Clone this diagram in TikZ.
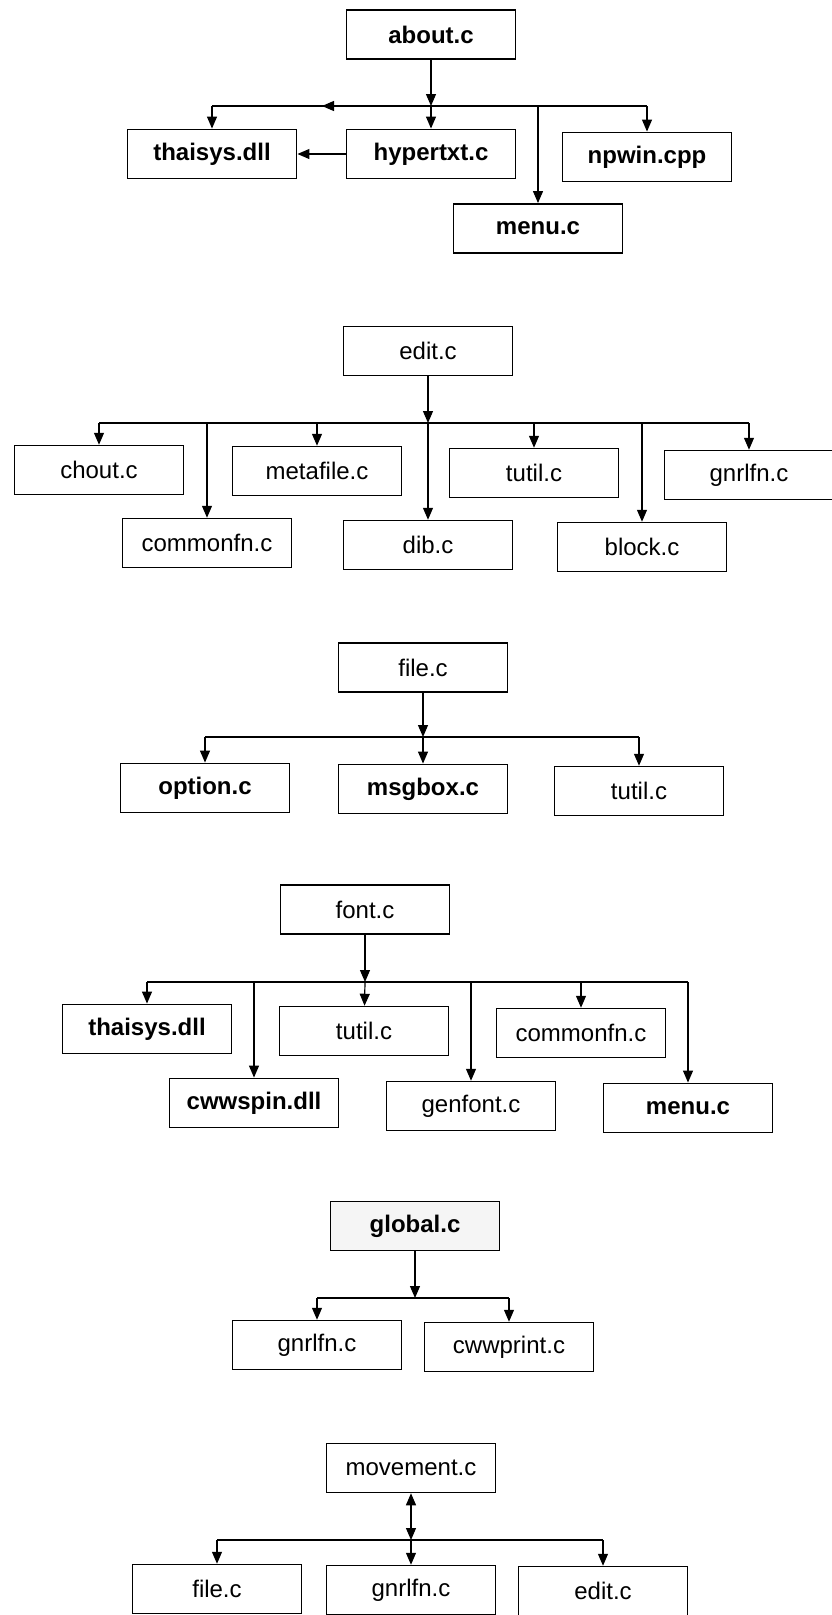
\documentclass[tikz,border=0pt]{standalone}
\usepackage{fontspec}
\setmainfont{Liberation Sans}
\usetikzlibrary{arrows.meta}
\begin{document}
\begin{tikzpicture}[x=1pt,y=-1pt]
        \useasboundingbox (0,0) rectangle (832,1615);
        \tikzstyle{every node}=[rectangle, draw=black, fill=white, line width=1.5pt, minimum width=169pt, minimum height=49pt, inner sep=0pt, font=\fontsize{24}{28}\selectfont, text=black]
        \tikzstyle{heavy}=[line width=1.9pt, font=\fontsize{24}{28}\selectfont\bfseries]
        \tikzstyle{wire}=[black, line width=1.2pt]
        \tikzstyle{edge}=[wire, -{Triangle[length=12pt,width=10pt]}]
        \tikzstyle{twoway}=[wire, {Triangle[length=12pt,width=10pt]}-{Triangle[length=12pt,width=10pt]}]

        \node[heavy] (about)     at (431,34.5)  {about.c};
        \node[heavy] (thaisys)   at (212,154)   {thaisys.dll};
        \node[heavy] (hypertxt)  at (431,154)   {hypertxt.c};
        \node[heavy] (npwin)     at (647,157)   {npwin.cpp};
        \node[heavy] (menuA)     at (538,228.5) {menu.c};

        \coordinate (aboutbus)   at (431,106);
        \coordinate (aboutmid)   at (322,106);
        \coordinate (thaisysbus) at (212,106);
        \coordinate (menuAbus)   at (538,106);
        \coordinate (npwinbus)   at (647,106);

        \draw[wire] (thaisysbus) -- (npwinbus);
        \draw[edge] (about) -- (aboutbus);
        \draw[edge] (aboutbus) -- (aboutmid);
        \draw[edge] (aboutbus) -- (hypertxt);
        \draw[edge] (thaisysbus) -- (thaisys);
        \draw[edge] (menuAbus) -- (menuA);
        \draw[edge] (npwinbus) -- (npwin);
        \draw[edge] (hypertxt) -- (thaisys);

        \node (edit)     at (428,351) {edit.c};
        \node (chout)    at (99,470)  {chout.c};
        \node (metafile) at (317,471) {metafile.c};
        \node (tutilB)   at (534,473) {tutil.c};
        \node (gnrlfnB)  at (749,475) {gnrlfn.c};
        \node (commonB)  at (207,543) {commonfn.c};
        \node (dib)      at (428,545) {dib.c};
        \node (block)    at (642,547) {block.c};

        \coordinate (editbus)     at (428,423);
        \coordinate (choutbus)    at (99,423);
        \coordinate (commonBbus)  at (207,423);
        \coordinate (metafilebus) at (317,423);
        \coordinate (tutilBbus)   at (534,423);
        \coordinate (blockbus)    at (642,423);
        \coordinate (gnrlfnBbus)  at (749,423);

        \draw[wire] (choutbus) -- (gnrlfnBbus);
        \draw[edge] (edit) -- (editbus);
        \draw[edge] (editbus) -- (dib);
        \draw[edge] (choutbus) -- (chout);
        \draw[edge] (commonBbus) -- (commonB);
        \draw[edge] (metafilebus) -- (metafile);
        \draw[edge] (tutilBbus) -- (tutilB);
        \draw[edge] (blockbus) -- (block);
        \draw[edge] (gnrlfnBbus) -- (gnrlfnB);

        \node (file)         at (423,667.5) {file.c};
        \node[heavy] (option) at (205,788)  {option.c};
        \node[heavy] (msgbox) at (423,789)  {msgbox.c};
        \node (tutilC)       at (639,791)   {tutil.c};

        \coordinate (filebus)   at (423,737);
        \coordinate (optionbus) at (205,737);
        \coordinate (tutilCbus) at (639,737);

        \draw[wire] (optionbus) -- (tutilCbus);
        \draw[edge] (file) -- (filebus);
        \draw[edge] (filebus) -- (msgbox);
        \draw[edge] (optionbus) -- (option);
        \draw[edge] (tutilCbus) -- (tutilC);

        \node (font)           at (365,909.5) {font.c};
        \node[heavy] (thaisysD) at (147,1029) {thaisys.dll};
        \node (tutilD)         at (364,1031)  {tutil.c};
        \node (commonD)        at (581,1033)  {commonfn.c};
        \node[heavy] (cwwspin) at (254,1103)  {cwwspin.dll};
        \node (genfont)        at (471,1106)  {genfont.c};
        \node[heavy] (menuD)   at (688,1108)  {menu.c};

        \coordinate (fontbus)     at (365,982);
        \coordinate (thaisysDbus) at (147,982);
        \coordinate (cwwspinbus)  at (254,982);
        \coordinate (genfontbus)  at (471,982);
        \coordinate (commonDbus)  at (581,982);
        \coordinate (menuDbus)    at (688,982);

        \draw[wire] (thaisysDbus) -- (menuDbus);
        \draw[edge] (font) -- (fontbus);
        \draw[edge] (fontbus) -- (tutilD);
        \draw[edge] (thaisysDbus) -- (thaisysD);
        \draw[edge] (cwwspinbus) -- (cwwspin);
        \draw[edge] (genfontbus) -- (genfont);
        \draw[edge] (commonDbus) -- (commonD);
        \draw[edge] (menuDbus) -- (menuD);

        \node[heavy, line width=1.5pt, fill=gray!8] (global) at (415,1226) {global.c};
        \node (gnrlfnE)  at (317,1345) {gnrlfn.c};
        \node (cwwprint) at (509,1347) {cwwprint.c};

        \coordinate (globalbus)   at (415,1298);
        \coordinate (gnrlfnEbus)  at (317,1298);
        \coordinate (cwwprintbus) at (509,1298);

        \draw[wire] (gnrlfnEbus) -- (cwwprintbus);
        \draw[edge] (global) -- (globalbus);
        \draw[edge] (gnrlfnEbus) -- (gnrlfnE);
        \draw[edge] (cwwprintbus) -- (cwwprint);

        \node (movement) at (411,1468) {movement.c};
        \node (fileF)    at (217,1589) {file.c};
        \node (gnrlfnF)  at (411,1590) {gnrlfn.c};
        \node (editF)    at (603,1591) {edit.c};

        \coordinate (movementbus) at (411,1540);
        \coordinate (fileFbus)    at (217,1540);
        \coordinate (editFbus)    at (603,1540);

        \draw[wire] (fileFbus) -- (editFbus);
        \draw[twoway] (movement) -- (movementbus);
        \draw[edge] (movementbus) -- (gnrlfnF);
        \draw[edge] (fileFbus) -- (fileF);
        \draw[edge] (editFbus) -- (editF);
\end{tikzpicture}
\end{document}
